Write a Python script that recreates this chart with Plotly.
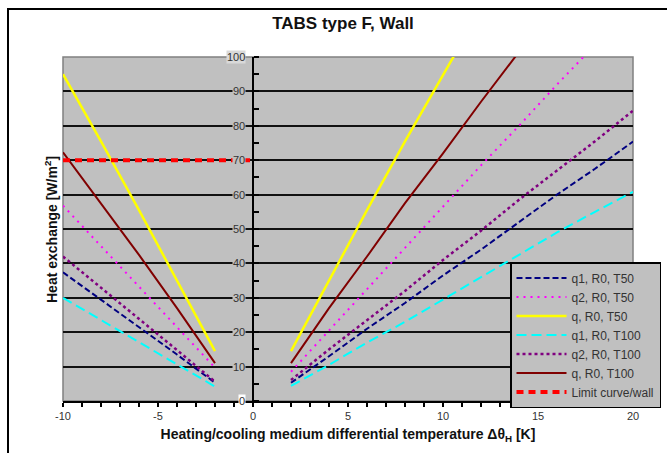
import plotly.graph_objects as go

# Temperature differences (K): cooling side (negative) and heating side (positive)
x_cool = [-10, -8, -6, -4, -2]
x_heat = [2, 4, 6, 8, 10, 12, 14, 16, 18, 20]

# Heat exchange (W/m2) per series
q1_t50_cool = [37.4, 29.5, 21.5, 13.5, 5.3]
q1_t50_heat = [5.3, 13, 21, 28.5, 36.5, 44, 52, 60, 67.5, 75.4]
q2_t50_cool = [56.8, 45, 33.2, 21.5, 9.7]
q2_t50_heat = [8.5, 20.5, 32.5, 44.5, 56.5, 68.5, 80, 92, 103.5]
q_t50_cool = [95, 75.5, 55.5, 35, 14.5]
q_t50_heat = [14.5, 35, 55.5, 75.5, 95, 114]
q1_t100_cool = [30, 23.5, 17.1, 10.7, 4.2]
q1_t100_heat = [4.4, 10.5, 17, 23, 29.5, 36, 42.5, 49, 55, 60.8]
q2_t100_cool = [42, 33, 24, 14.8, 5.6]
q2_t100_heat = [6.1, 15, 23.5, 32, 41, 49.5, 58.5, 67, 75.5, 84.4]
q_t100_cool = [72.3, 57.5, 42.5, 27, 11]
q_t100_heat = [11, 27, 42, 57.5, 72, 87, 101.5]

# Limit curve for the wall (cooling side)
limit_x = [-10, 0]
limit_y = [70, 70]

x_range = [-10, 20]
y_range = [0, 100]
x_tick_vals = [-10, -5, 0, 5, 10, 15, 20]
y_tick_vals = [0, 10, 20, 30, 40, 50, 60, 70, 80, 90, 100]

series = [
    ("q1, R0, T50", q1_t50_cool, q1_t50_heat, dict(color="#000080", width=2, dash="6px,3px")),
    ("q2, R0, T50", q2_t50_cool, q2_t50_heat, dict(color="#FF00FF", width=2, dash="2px,5px")),
    ("q, R0, T50", q_t50_cool, q_t50_heat, dict(color="#FFFF00", width=2.5)),
    ("q1, R0, T100", q1_t100_cool, q1_t100_heat, dict(color="#00FFFF", width=2, dash="10px,5px")),
    ("q2, R0, T100", q2_t100_cool, q2_t100_heat, dict(color="#800080", width=2.5, dash="3px,3px")),
    ("q, R0, T100", q_t100_cool, q_t100_heat, dict(color="#800000", width=2)),
]

fig = go.Figure()
for name, cool, heat, line in series:
    xs = x_cool[:len(cool)] + [None] + x_heat[:len(heat)]
    ys = cool + [None] + heat
    fig.add_trace(go.Scatter(x=xs, y=ys, mode="lines", name=name, line=line))

fig.add_trace(go.Scatter(x=limit_x, y=limit_y, mode="lines", name="Limit curve/wall",
                         line=dict(color="#FF0000", width=4, dash="7px,5px")))

font_family = "Liberation Sans, Arial, sans-serif"
y_axis_pos = (0 - x_range[0]) / (x_range[1] - x_range[0])

fig.update_layout(
    width=667, height=453,
    margin=dict(l=63, r=34, t=57, b=52, autoexpand=False),
    paper_bgcolor="white",
    plot_bgcolor="#C0C0C0",
    font=dict(family=font_family, size=11, color="#222222"),
    title=dict(text="<b>TABS type F, Wall</b>", x=343 / 667, xref="container", xanchor="center",
               y=1 - 23 / 453, yref="container", yanchor="middle",
               font=dict(size=17, color="#111111")),
    xaxis=dict(
        range=x_range, tickvals=x_tick_vals, ticktext=[str(v) for v in x_tick_vals],
        showgrid=False, zeroline=False,
        showline=True, linecolor="black", linewidth=2,
        ticks="outside", ticklen=4, tickwidth=1.5, tickcolor="black",
        minor=dict(tickmode="linear", tick0=0, dtick=1, ticks="outside", ticklen=4,
                   tickwidth=1.5, tickcolor="black"),
        tickfont=dict(size=11, color="#333333"),
        title=dict(text="<b>Heating/cooling medium differential temperature Δθ<sub>H</sub> [K]</b>",
                   font=dict(size=14, color="#111111"), standoff=8),
    ),
    yaxis=dict(
        range=y_range, tickvals=y_tick_vals[1:-1], showticklabels=False,
        showgrid=True, gridcolor="#111111", gridwidth=2, zeroline=False,
        anchor="free", position=y_axis_pos,
        showline=True, linecolor="black", linewidth=2,
        ticks="",
        minor=dict(tickmode="linear", tick0=0, dtick=5, ticks="inside", ticklen=5,
                   tickwidth=1.5, tickcolor="black", showgrid=False),
    ),
    legend=dict(
        x=(510 - 63) / 570, y=(401 - 262) / 344, xanchor="left", yanchor="top",
        bgcolor="#C0C0C0", bordercolor="black", borderwidth=1.5,
        font=dict(size=12, color="#333333"), itemwidth=50,
    ),
    showlegend=True,
)

# Y tick labels beside the axis at x = 0, boxed so the grid lines stop at the text
for v in y_tick_vals:
    bg = "white" if v == y_range[0] else ("#D9D9D9" if v == y_range[1] else "#C0C0C0")
    fig.add_annotation(x=0, xref="x", y=v, yref="y", text=str(v), showarrow=False,
                       xanchor="right", xshift=-7, bgcolor=bg, borderpad=0,
                       font=dict(size=11, color="#333333"))

# Y axis title
fig.add_annotation(x=(40 - 63) / 570, xref="paper", y=(401 - 230) / 344, yref="paper",
                   text="<b>Heat exchange [W/m<sup>2</sup>]</b>", textangle=-90, showarrow=False,
                   font=dict(size=14, color="#111111"))

# Plot-area border and outer chart frame
fig.add_shape(type="rect", xref="x domain", yref="y domain", x0=0, x1=1, y0=0, y1=1,
              line=dict(color="#808080", width=1.5), layer="below")
fig.add_shape(type="rect", xref="paper", yref="paper",
              x0=(8 - 63) / 570, x1=1.3, y0=-0.5, y1=(401 - 9) / 344,
              line=dict(color="black", width=2), layer="above")

fig.write_html("out.html")
